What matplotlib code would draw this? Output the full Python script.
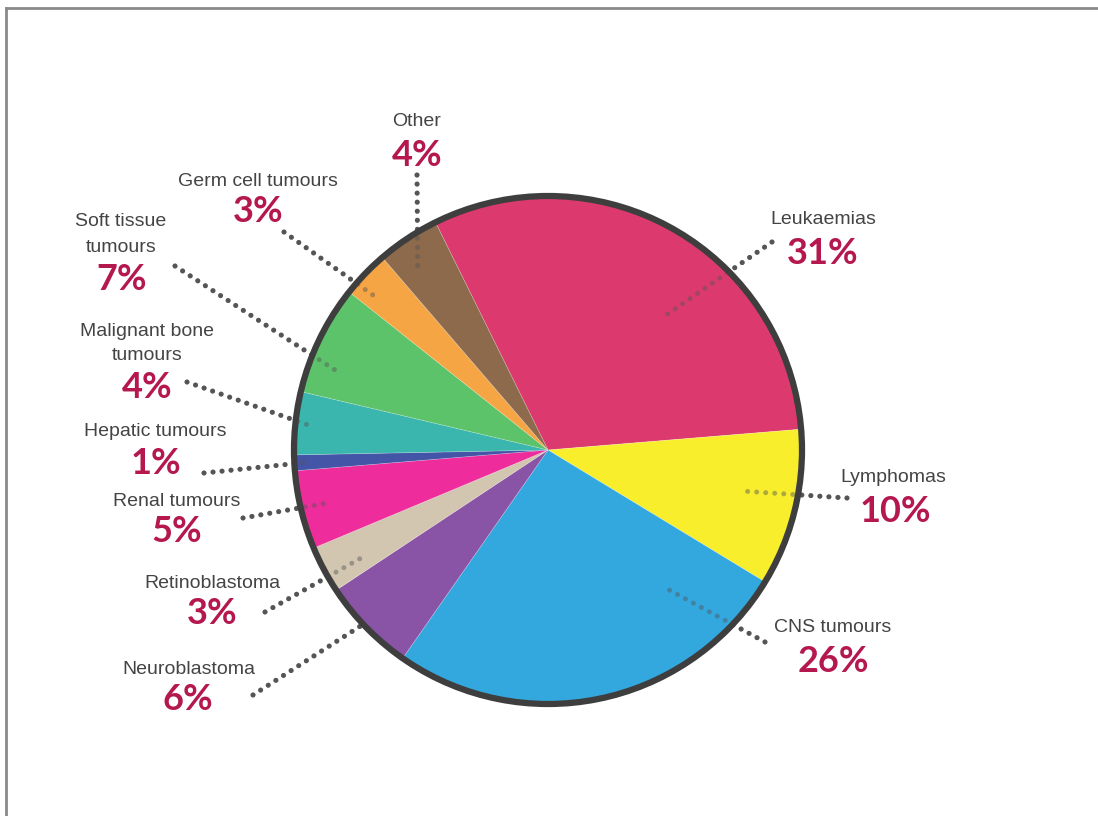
import numpy as np
import matplotlib
matplotlib.use('Agg')
import matplotlib.pyplot as plt
from matplotlib.lines import Line2D

# childhood cancer types, share of cases (%)
categories = ['Leukaemias', 'Lymphomas', 'CNS tumours', 'Neuroblastoma',
              'Retinoblastoma', 'Renal tumours', 'Hepatic tumours',
              'Malignant bone tumours', 'Soft tissue tumours',
              'Germ cell tumours', 'Other']
shares = [31, 10, 26, 6, 3, 5, 1, 4, 7, 3, 4]
name_lines = [['Leukaemias'], ['Lymphomas'], ['CNS tumours'], ['Neuroblastoma'],
              ['Retinoblastoma'], ['Renal tumours'], ['Hepatic tumours'],
              ['Malignant bone', 'tumours'], ['Soft tissue', 'tumours'],
              ['Germ cell tumours'], ['Other']]
colors = ['#DC3A6E', '#F8EE2C', '#33A8DE', '#8953A6', '#D2C6B0', '#EE2C9C',
          '#4454A6', '#3AB6AE', '#5DC36B', '#F6A544', '#8C6A4B']

W, H = 1098, 816
CX, CY, R = 548, 450, 254

# label layout in pixels: name line y's, percent y, text x, leader start
label_x = [823, 893, 833, 189, 212, 177, 155, 147, 121, 258, 417]
name_y = [[219], [478], [628], [669], [583], [501], [431], [331, 355],
          [222, 247], [181], [122]]
pct_x = [823, 895, 833, 188, 212, 177, 156, 147, 122, 258, 417]
pct_y = [253, 511, 662, 700, 614, 531, 463, 387, 279, 212, 155]
lead_out = [(772, 242), (847, 498), (765, 642), (253, 695), (265, 612),
            (243, 518), (204, 473), (187, 382), (175, 266), (284, 232),
            (417, 175)]
# leader end inside the wedge: fraction along the wedge, fraction of radius
lead_t = [0.60, 0.46, 0.20, 0.54, 0.32, 0.51, 0.5, 0.49, 0.28, 0.28, 0.35]
lead_r = [0.68, 0.79, 0.70, 0.99, 0.83, 0.89, 0.94, 0.95, 0.88, 0.92, 0.88]

fig = plt.figure(figsize=(W / 100, H / 100), dpi=100)
ax = fig.add_axes([0, 0, 1, 1])

wedges, _ = ax.pie(shares, colors=colors, startangle=116.3, counterclock=False,
                   center=(CX, H - CY), radius=R, frame=True,
                   wedgeprops=dict(linewidth=0.5, edgecolor='#ffffff40'))
ax.set_xlim(0, W)
ax.set_ylim(0, H)
ax.set_aspect('equal')
ax.axis('off')
for w in wedges:
    w.set_zorder(2)

# dark outline round the pie
ax.add_patch(plt.Circle((CX, H - CY), R, fill=False, edgecolor='#3E3E3E',
                        linewidth=4.5, zorder=4))

dot = dict(color='#555555', linewidth=3.6, linestyle=(0, (0.01, 1.8)),
           dash_capstyle='round', solid_capstyle='round')
for i, w in enumerate(wedges):
    ang = np.deg2rad(w.theta2 - lead_t[i] * (w.theta2 - w.theta1))
    xin = CX + lead_r[i] * R * np.cos(ang)
    yin = (H - CY) + lead_r[i] * R * np.sin(ang)
    xo, yo = lead_out[i]
    ax.plot([xo, xin], [H - yo, yin], zorder=1, **dot)
    ax.plot([xo, xin], [H - yo, yin], zorder=3, alpha=0.45, **dot)

    for line, ly in zip(name_lines[i], name_y[i]):
        ax.text(label_x[i], H - ly, line, ha='center', va='center',
                fontsize=14, color='#444444', family='Liberation Sans')
    ax.text(pct_x[i], H - pct_y[i], f'{shares[i]}%', ha='center', va='center',
            fontsize=26, fontweight='bold', color='#B5174F', family='Lato')

# grey frame along the top and left
fig.add_artist(Line2D([6 / W, 1], [1 - 8 / H, 1 - 8 / H], color='#8A8A8A',
                      linewidth=2, transform=fig.transFigure))
fig.add_artist(Line2D([6 / W, 6 / W], [0, 1 - 8 / H], color='#8A8A8A',
                      linewidth=2, transform=fig.transFigure))

fig.savefig('out.png', dpi=100, facecolor='white')
